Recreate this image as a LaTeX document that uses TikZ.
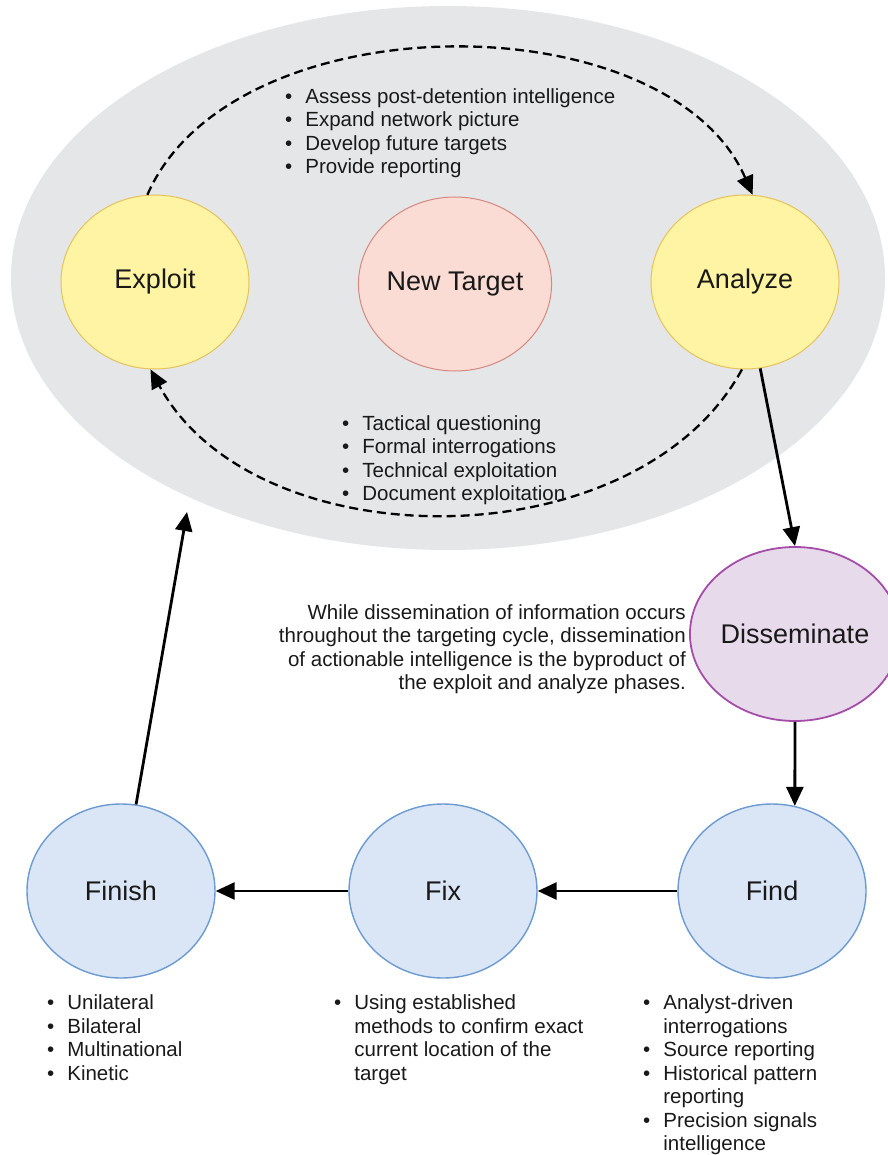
\documentclass[tikz,border=0pt]{standalone}
\usepackage{fontspec}
\setmainfont{Liberation Sans}
\usetikzlibrary{shapes.geometric,arrows.meta}
\definecolor{cloudgray}{HTML}{E5E6E8}
\definecolor{yelfill}{HTML}{FFF4A3}
\definecolor{yelline}{HTML}{E6C25A}
\definecolor{pinkfill}{HTML}{FADCD5}
\definecolor{pinkline}{HTML}{D6887F}
\definecolor{purpfill}{HTML}{E7DAEB}
\definecolor{purpline}{HTML}{A44DA8}
\definecolor{bluefill}{HTML}{DAE6F5}
\definecolor{blueline}{HTML}{6C9AD2}
\newcommand{\blist}[1]{\begin{tabular}[t]{@{}l@{\hspace{13pt}}l@{}}#1\end{tabular}}
\begin{document}
\begin{tikzpicture}[x=1pt,y=-1pt,
phase/.style={ellipse,draw,line width=1pt,minimum width=188pt,minimum height=174pt,inner sep=0pt,text=black!90,font=\fontsize{27}{32}\selectfont},
yel/.style={phase,fill=yelfill,draw=yelline},
pink/.style={phase,fill=pinkfill,draw=pinkline,minimum width=184pt},
purp/.style={phase,fill=purpfill,draw=purpline,line width=1.8pt,minimum width=182pt},
blue/.style={phase,fill=bluefill,draw=blueline,line width=1.4pt},
note/.style={inner sep=0pt,text=black!90,font=\fontsize{20.5}{23.5}\selectfont},
flow/.style={line width=2.8pt,-{Triangle[length=19pt,width=17pt]}},
loopflow/.style={flow,line width=2.3pt,dash pattern=on 9pt off 5pt}]
\useasboundingbox(0,0)rectangle(887,1155);
\node[ellipse,fill=cloudgray,minimum width=874pt,minimum height=544pt,inner sep=0pt](cloud)at(448,278){};
\foreach \nm/\x/\y/\st/\lb in {Exploit/155/282/yel/Exploit,NewTarget/455/284/pink/{New Target},Analyze/745/282/yel/Analyze,Disseminate/795/634/purp/Disseminate,Find/772/891/blue/Find,Fix/443/891/blue/Fix,Finish/121/891/blue/Finish}{\node[\st](\nm)at(\x,\y){\lb};}
\draw[loopflow](Exploit.95)..controls+(85,-195)and+(-85,-195)..(Analyze.85);
\draw[loopflow](Analyze.-92)..controls+(-105,193)and+(105,193)..(Exploit.-93);
\draw[flow](Analyze.-80)--(Disseminate.north);
\draw[flow](Disseminate.south)--(Find.75);
\draw[flow](Find.west)--(Fix.east);
\draw[flow](Fix.west)--(Finish.east);
\coordinate(back)at(187,512);
\draw[flow](Finish)--(back);
\node[note,anchor=base west](exploitNote)at(285,103.5){\blist{\textbullet&Assess post-detention intelligence\\\textbullet&Expand network picture\\\textbullet&Develop future targets\\\textbullet&Provide reporting}};
\node[note,anchor=base west](analyzeNote)at(342,430){\blist{\textbullet&Tactical questioning\\\textbullet&Formal interrogations\\\textbullet&Technical exploitation\\\textbullet&Document exploitation}};
\node[note,anchor=base east](dissemNote)at(686,619){\begin{tabular}[t]{@{}r@{}}While dissemination of information occurs\\throughout the targeting cycle, dissemination\\of actionable intelligence is the byproduct of\\the exploit and analyze phases.\end{tabular}};
\node[note,anchor=base west](finishNote)at(47,1009.5){\blist{\textbullet&Unilateral\\\textbullet&Bilateral\\\textbullet&Multinational\\\textbullet&Kinetic}};
\node[note,anchor=base west](fixNote)at(334,1009.5){\blist{\textbullet&Using established\\&methods to confirm exact\\&current location of the\\&target}};
\node[note,anchor=base west](findNote)at(643,1009.5){\blist{\textbullet&Analyst-driven\\&interrogations\\\textbullet&Source reporting\\\textbullet&Historical pattern\\&reporting\\\textbullet&Precision signals\\&intelligence}};
%\node[note](legend)at(60,60){};
\end{tikzpicture}
\end{document}
